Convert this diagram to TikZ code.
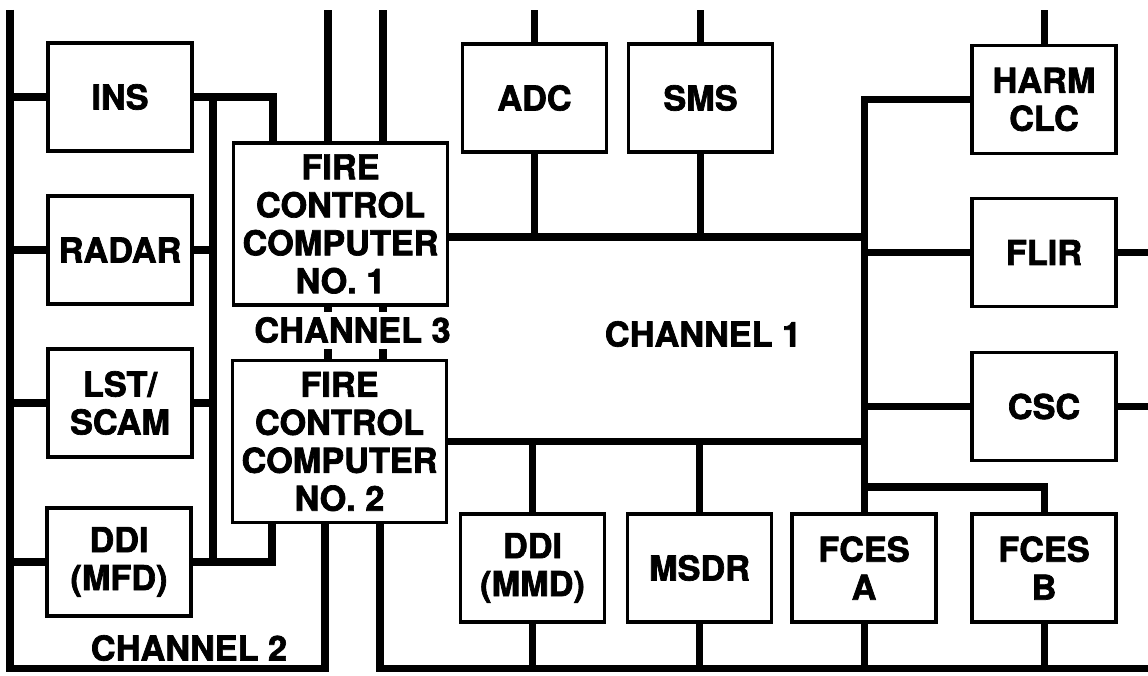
\documentclass[tikz,border=0pt]{standalone}
\usepackage{fontspec}
\setmainfont{TeX Gyre Heros}[BoldFeatures={FakeBold=2}]
\usetikzlibrary{positioning}

\begin{document}
\begin{tikzpicture}[font=\bfseries\fontsize{19.5}{21.6}\selectfont,
  box/.style={draw,line width=2pt,minimum width=2.88cm,minimum height=2.16cm,align=center,inner sep=1pt},
  fcc/.style={box,minimum width=4.28cm,minimum height=3.24cm},
  bus/.style={line width=4pt},
  chan/.style={inner sep=1pt}]
\useasboundingbox (0,0) rectangle (22.96,13.5);
\coordinate (top) at (0,13.30); \coordinate (edge) at (22.96,0);
\node[box] (ins) at (2.40,11.56) {INS};
\node[box] (radar) at (2.40,8.50) {RADAR};
\node[box] (lst) at (2.40,5.44) {LST/\\SCAM};
\node[box] (mfd) at (2.38,2.26) {DDI\\(MFD)};
\node[fcc] (fcca) at (6.81,9.02) {FIRE\\CONTROL\\COMPUTER\\NO. 1};
\node[fcc] (fccb) at (6.79,4.67) {FIRE\\CONTROL\\COMPUTER\\NO. 2};
\node[box] (adc) at (10.69,11.54) {ADC};
\node[box] (sms) at (14.01,11.54) {SMS};
\node[box] (mmd) at (10.65,2.14) {DDI\\(MMD)};
\node[box] (msdr) at (13.99,2.14) {MSDR};
\node[box] (fcesa) at (17.28,2.14) {FCES\\A};
\node[box] (fcesb) at (20.88,2.14) {FCES\\B};
\node[box] (harm) at (20.88,11.51) {HARM\\CLC};
\node[box] (flir) at (20.88,8.45) {FLIR};
\node[box] (csc) at (20.88,5.37) {CSC};
\coordinate (c2) at (0.20,13.30); \coordinate (c2b) at (0.20,0.13);
\coordinate (fb2) at ([xshift=-2.9mm]fccb.south);
\draw[bus] (c2) -- (c2b) -| (fb2);
\draw[bus] (ins.west) -- (ins.west -| c2); \draw[bus] (radar.west) -- (radar.west -| c2);
\draw[bus] (lst.west) -- (lst.west -| c2); \draw[bus] (mfd.west) -- (mfd.west -| c2);
\node[chan] (ch2) at (3.78,0.54) {CHANNEL 2};
\coordinate (c3) at (4.26,0);
\coordinate (fa3) at ([xshift=-13.5mm]fcca.north); \coordinate (fb3) at ([xshift=-13.5mm]fccb.south);
\draw[bus] (ins.east) -| (fa3); \draw[bus] (mfd.east) -| (fb3);
\draw[bus] (c3 |- ins.east) -- (c3 |- mfd.east);
\draw[bus] (radar.east) -- (radar.east -| c3); \draw[bus] (lst.east) -- (lst.east -| c3);
\coordinate (fa4) at ([xshift=-2.5mm]fcca.south); \coordinate (fa5) at ([xshift=8.5mm]fcca.south);
\draw[bus] (fa4) -- (fa4 |- fccb.north); \draw[bus] (fa5) -- (fa5 |- fccb.north);
\draw[bus] (fa4 |- fcca.north) -- (fa4 |- top); \draw[bus] (fa5 |- fcca.north) -- (fa5 |- top);
\node[chan,fill=white,minimum height=0.74cm] (ch3) at (7.05,6.90) {CHANNEL 3};
\coordinate (c1) at ([yshift=-2.6mm]fcca.east);
\draw[bus] (c1) -- (c1 -| fcesa.north); \draw[bus] (fccb.east) -- (fccb.east -| fcesa.north);
\draw[bus] (harm.west) -| (fcesa.north);
\draw[bus] (flir.west) -- (flir.west -| fcesa.north); \draw[bus] (csc.west) -- (csc.west -| fcesa.north);
\draw[bus] (adc.south) -- (adc.south |- c1); \draw[bus] (sms.south) -- (sms.south |- c1);
\draw[bus] (mmd.north) -- (mmd.north |- fccb.east); \draw[bus] (msdr.north) -- (msdr.north |- fccb.east);
\coordinate (c1f) at (0,3.76); \draw[bus] (fcesa.north |- c1f) -| (fcesb.north);
\coordinate (c1b) at ([xshift=8.1mm]fccb.south); \draw[bus] (c1b) |- (edge |- c2b);
\draw[bus] (mmd.south) -- (mmd.south |- c2b); \draw[bus] (msdr.south) -- (msdr.south |- c2b);
\draw[bus] (fcesa.south) -- (fcesa.south |- c2b); \draw[bus] (fcesb.south) -- (fcesb.south |- c2b);
\draw[bus] (adc.north) -- (adc.north |- top); \draw[bus] (sms.north) -- (sms.north |- top);
\draw[bus] (harm.north) -- (harm.north |- top);
\draw[bus] (flir.east) -- (flir.east -| edge); \draw[bus] (csc.east) -- (csc.east -| edge);
\node[chan] (ch1) at (14.06,6.82) {CHANNEL 1};
\end{tikzpicture}
\end{document}
